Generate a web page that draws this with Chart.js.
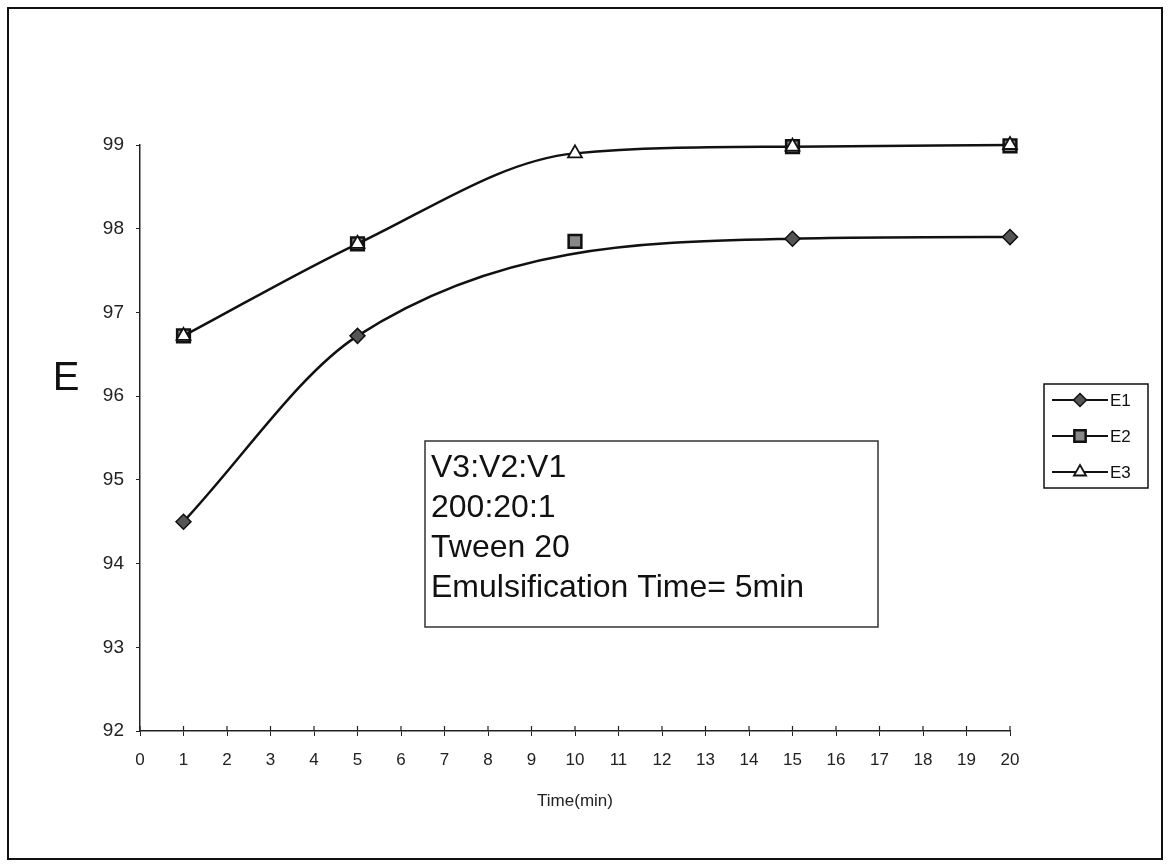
<!DOCTYPE html>
<html>
<head>
<meta charset="utf-8">
<script src="https://cdn.jsdelivr.net/npm/chart.js@4/dist/chart.umd.min.js"></script>
<style>
    body { margin: 0; background: #fff; }
    canvas { display: block; }
</style>
</head>
<body>
<canvas id="chart" width="1172" height="866"></canvas>
<script>
// values
const timeE1 = [1, 5, 15, 20];
const valuesE1 = [94.5, 96.72, 97.88, 97.9];
const timeE2 = [1, 5, 10, 15, 20];
const valuesE2 = [96.72, 97.82, 97.85, 98.98, 98.99];
const timeE3 = [1, 5, 10, 15, 20];
const valuesE3 = [96.72, 97.82, 98.9, 98.98, 99];

const xMin = 0, xMax = 20;
const yMin = 92, yMax = 99;

const noteLines = ['V3:V2:V1', '200:20:1', 'Tween 20', 'Emulsification Time= 5min'];
const legendLabels = ['E1', 'E2', 'E3'];

const FONT = 'Arial, "Liberation Sans", sans-serif';

const toPoints = (xs, ys) => xs.map((x, i) => ({ x, y: ys[i] }));

const markers = [
    { pointStyle: 'rectRot', radius: 7.5, fill: '#555', border: 1.5 },
    { pointStyle: 'rect', radius: 9, fill: '#888', border: 2.5 },
    { pointStyle: 'triangle', radius: 8, fill: '#fff', border: 1.8 },
];

// frame, note box, legend, inner half of the x ticks and the "E" label
const decorations = {
    id: 'decorations',
    afterDraw(chart) {
        const ctx = chart.ctx;
        const area = chart.chartArea;
        const xScale = chart.scales.x;
        ctx.save();
        ctx.strokeStyle = '#111';
        ctx.lineWidth = 2;
        ctx.strokeRect(8, 8, 1154, 851);

        // Excel style crossing ticks on the time axis
        ctx.lineWidth = 1.2;
        ctx.strokeStyle = '#222';
        xScale.ticks.forEach(t => {
            const x = xScale.getPixelForValue(t.value);
            ctx.beginPath();
            ctx.moveTo(x, area.bottom - 5);
            ctx.lineTo(x, area.bottom);
            ctx.stroke();
        });

        // note box
        ctx.lineWidth = 1.5;
        ctx.strokeStyle = '#333';
        ctx.strokeRect(425, 441, 453, 186);
        ctx.fillStyle = '#111';
        ctx.font = '32px ' + FONT;
        ctx.textBaseline = 'alphabetic';
        ctx.textAlign = 'left';
        noteLines.forEach((line, i) => {
            ctx.fillText(line, 431, 477 + i * 40);
        });

        // legend
        ctx.strokeStyle = '#111';
        ctx.lineWidth = 1.5;
        ctx.strokeRect(1044, 384, 104, 104);
        ctx.font = '17px ' + FONT;
        ctx.textBaseline = 'middle';
        legendLabels.forEach((label, i) => {
            const y = 400 + i * 36;
            ctx.strokeStyle = '#111';
            ctx.lineWidth = 2;
            ctx.beginPath();
            ctx.moveTo(1052, y);
            ctx.lineTo(1108, y);
            ctx.stroke();
            const m = markers[i];
            ctx.fillStyle = m.fill;
            ctx.lineWidth = m.border;
            Chart.helpers.drawPoint(ctx, { pointStyle: m.pointStyle, radius: m.radius - 1, borderWidth: m.border }, 1080, y);
            ctx.fillStyle = '#111';
            ctx.fillText(label, 1110, y + 1);
        });

        // y axis title, written upright
        ctx.font = '40px ' + FONT;
        ctx.textAlign = 'center';
        ctx.fillText('E', 66, 379);
        ctx.restore();
    }
};

const dataset = (label, points, i, showLine, order) => ({
    label,
    data: points,
    showLine,
    order,
    borderColor: '#111',
    borderWidth: 2.5,
    cubicInterpolationMode: 'monotone',
    pointStyle: markers[i].pointStyle,
    pointRadius: markers[i].radius,
    pointBackgroundColor: markers[i].fill,
    pointBorderColor: '#111',
    pointBorderWidth: markers[i].border,
    clip: false,
});

new Chart(document.getElementById('chart'), {
    type: 'scatter',
    data: {
        datasets: [
            dataset('E1', toPoints(timeE1, valuesE1), 0, true, 2),
            dataset('E2', toPoints(timeE2, valuesE2), 1, false, 1),
            dataset('E3', toPoints(timeE3, valuesE3), 2, true, 0),
        ],
    },
    options: {
        responsive: false,
        animation: false,
        layout: {
            padding: { left: 80, right: 162, top: 145, bottom: 50 },
        },
        scales: {
            x: {
                type: 'linear',
                min: xMin,
                max: xMax,
                afterFit(scale) { scale.height = 85; },
                ticks: {
                    stepSize: 1,
                    color: '#222',
                    padding: 14,
                    maxRotation: 0,
                    font: { family: FONT, size: 17 },
                },
                grid: {
                    drawOnChartArea: false,
                    color: '#222',
                    tickLength: 5,
                },
                border: { color: '#222', width: 1.5 },
                title: {
                    display: true,
                    text: 'Time(min)',
                    color: '#222',
                    font: { family: FONT, size: 17 },
                    padding: { top: 4 },
                },
            },
            y: {
                min: yMin,
                max: yMax,
                afterFit(scale) { scale.width = 60; },
                ticks: {
                    stepSize: 1,
                    color: '#222',
                    padding: 12,
                    font: { family: FONT, size: 19 },
                },
                grid: {
                    drawOnChartArea: false,
                    color: '#222',
                    tickLength: 4,
                },
                border: { color: '#222', width: 1.5 },
            },
        },
        plugins: {
            legend: { display: false },
            tooltip: { enabled: false },
        },
    },
    plugins: [decorations],
});
</script>
</body>
</html>
